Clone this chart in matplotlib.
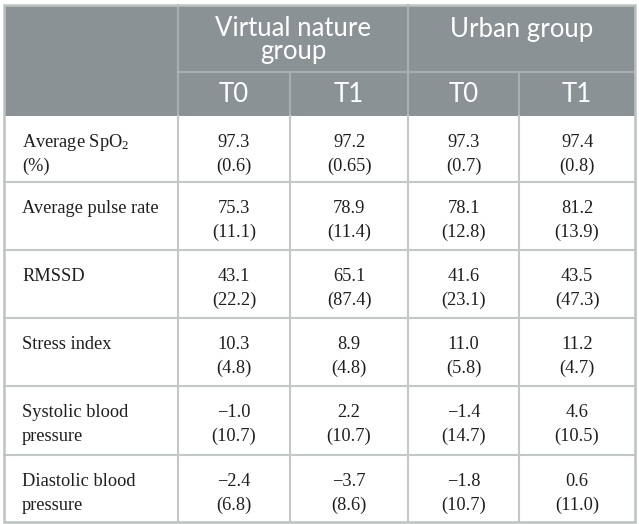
import matplotlib
matplotlib.use("Agg")
import matplotlib.pyplot as plt
from matplotlib.patches import Rectangle

plt.rcParams['mathtext.fontset'] = 'custom'
plt.rcParams['mathtext.rm'] = 'Liberation Serif'
plt.rcParams['mathtext.it'] = 'Liberation Serif'

groups = ["Virtual nature\ngroup", "Urban group"]
times = ["T0", "T1", "T0", "T1"]
row_labels = ["Average SpO$_2$\n(%)", "Average pulse rate", "RMSSD", "Stress index",
              "Systolic blood\npressure", "Diastolic blood\npressure"]
vn_t0_mean = ["97.3", "75.3", "43.1", "10.3", "\u22121.0", "\u22122.4"]
vn_t0_sd = ["0.6", "11.1", "22.2", "4.8", "10.7", "6.8"]
vn_t1_mean = ["97.2", "78.9", "65.1", "8.9", "2.2", "\u22123.7"]
vn_t1_sd = ["0.65", "11.4", "87.4", "4.8", "10.7", "8.6"]
ur_t0_mean = ["97.3", "78.1", "41.6", "11.0", "\u22121.4", "\u22121.8"]
ur_t0_sd = ["0.7", "12.8", "23.1", "5.8", "14.7", "10.7"]
ur_t1_mean = ["97.4", "81.2", "43.5", "11.2", "4.6", "0.6"]
ur_t1_sd = ["0.8", "13.9", "47.3", "4.7", "10.5", "11.0"]
means = [vn_t0_mean, vn_t1_mean, ur_t0_mean, ur_t1_mean]
sds = [vn_t0_sd, vn_t1_sd, ur_t0_sd, ur_t1_sd]

W, H = 639, 524
fig = plt.figure(figsize=(W / 100, H / 100), dpi=100)
ax = fig.add_axes([0, 0, 1, 1])
ax.set_xlim(0, W)
ax.set_ylim(H, 0)
ax.axis('off')

# layout
col_x = [4, 178, 290, 408, 519, 635]
hdr_y = [5, 72, 116]
row_y = [116, 182, 250, 318, 386, 455, 522]

HDR = '#8b9295'
LINE = '#c3c8c6'
HLINE = '#a9afb1'

ax.add_patch(Rectangle((col_x[0], hdr_y[0]), col_x[-1] - col_x[0], hdr_y[2] - hdr_y[0],
                       facecolor=HDR, edgecolor='none', zorder=1))

# header internal lines
ax.plot([col_x[1], col_x[-1]], [hdr_y[1], hdr_y[1]], color=HLINE, lw=1.5, zorder=2)
for x in [col_x[1], col_x[3]]:
    ax.plot([x, x], [hdr_y[0], hdr_y[2]], color=HLINE, lw=1.5, zorder=2)
for x in [col_x[2], col_x[4]]:
    ax.plot([x, x], [hdr_y[1], hdr_y[2]], color=HLINE, lw=1.5, zorder=2)

# body lines
for y in row_y[1:-1]:
    ax.plot([col_x[0], col_x[-1]], [y, y], color=LINE, lw=1.5, zorder=2)
for x in col_x[1:-1]:
    ax.plot([x, x], [row_y[0], row_y[-1]], color=LINE, lw=1.5, zorder=2)

# outer border
ax.add_patch(Rectangle((col_x[0], hdr_y[0]), col_x[-1] - col_x[0], row_y[-1] - hdr_y[0],
                       facecolor='none', edgecolor='#bcc3c0', lw=1.8, zorder=3))

hfont = dict(family='Lato', color='white', fontsize=18.5)
# group headers (va='baseline' on multi-line text aligns the last line)
for i, g in enumerate(groups):
    cx = (col_x[1 + 2 * i] + col_x[3 + 2 * i]) / 2
    n = len(g.split("\n"))
    ax.text(cx, 37 + 22 * (n - 1), g, ha='center', va='baseline', multialignment='center',
            linespacing=0.88, **hfont, zorder=4)
for j, t in enumerate(times):
    cx = (col_x[1 + j] + col_x[2 + j]) / 2
    ax.text(cx, 102, t, ha='center', va='baseline', **hfont, zorder=4)

bfont = dict(family='Liberation Serif', color='#1e1e1e', fontsize=13.2)
for r, lab in enumerate(row_labels):
    top = row_y[r]
    l = lab.split("\n")
    ax.text(22, top + 31, l[0], ha='left', va='baseline', **bfont, zorder=4)
    if len(l) > 1:
        ax.text(22, top + 55, l[1], ha='left', va='baseline', **bfont, zorder=4)
    for j in range(4):
        cx = (col_x[1 + j] + col_x[2 + j]) / 2
        ax.text(cx, top + 31, means[j][r], ha='center', va='baseline', **bfont, zorder=4)
        ax.text(cx, top + 55, "(" + sds[j][r] + ")", ha='center', va='baseline', **bfont, zorder=4)

fig.savefig("out.png", dpi=100)
